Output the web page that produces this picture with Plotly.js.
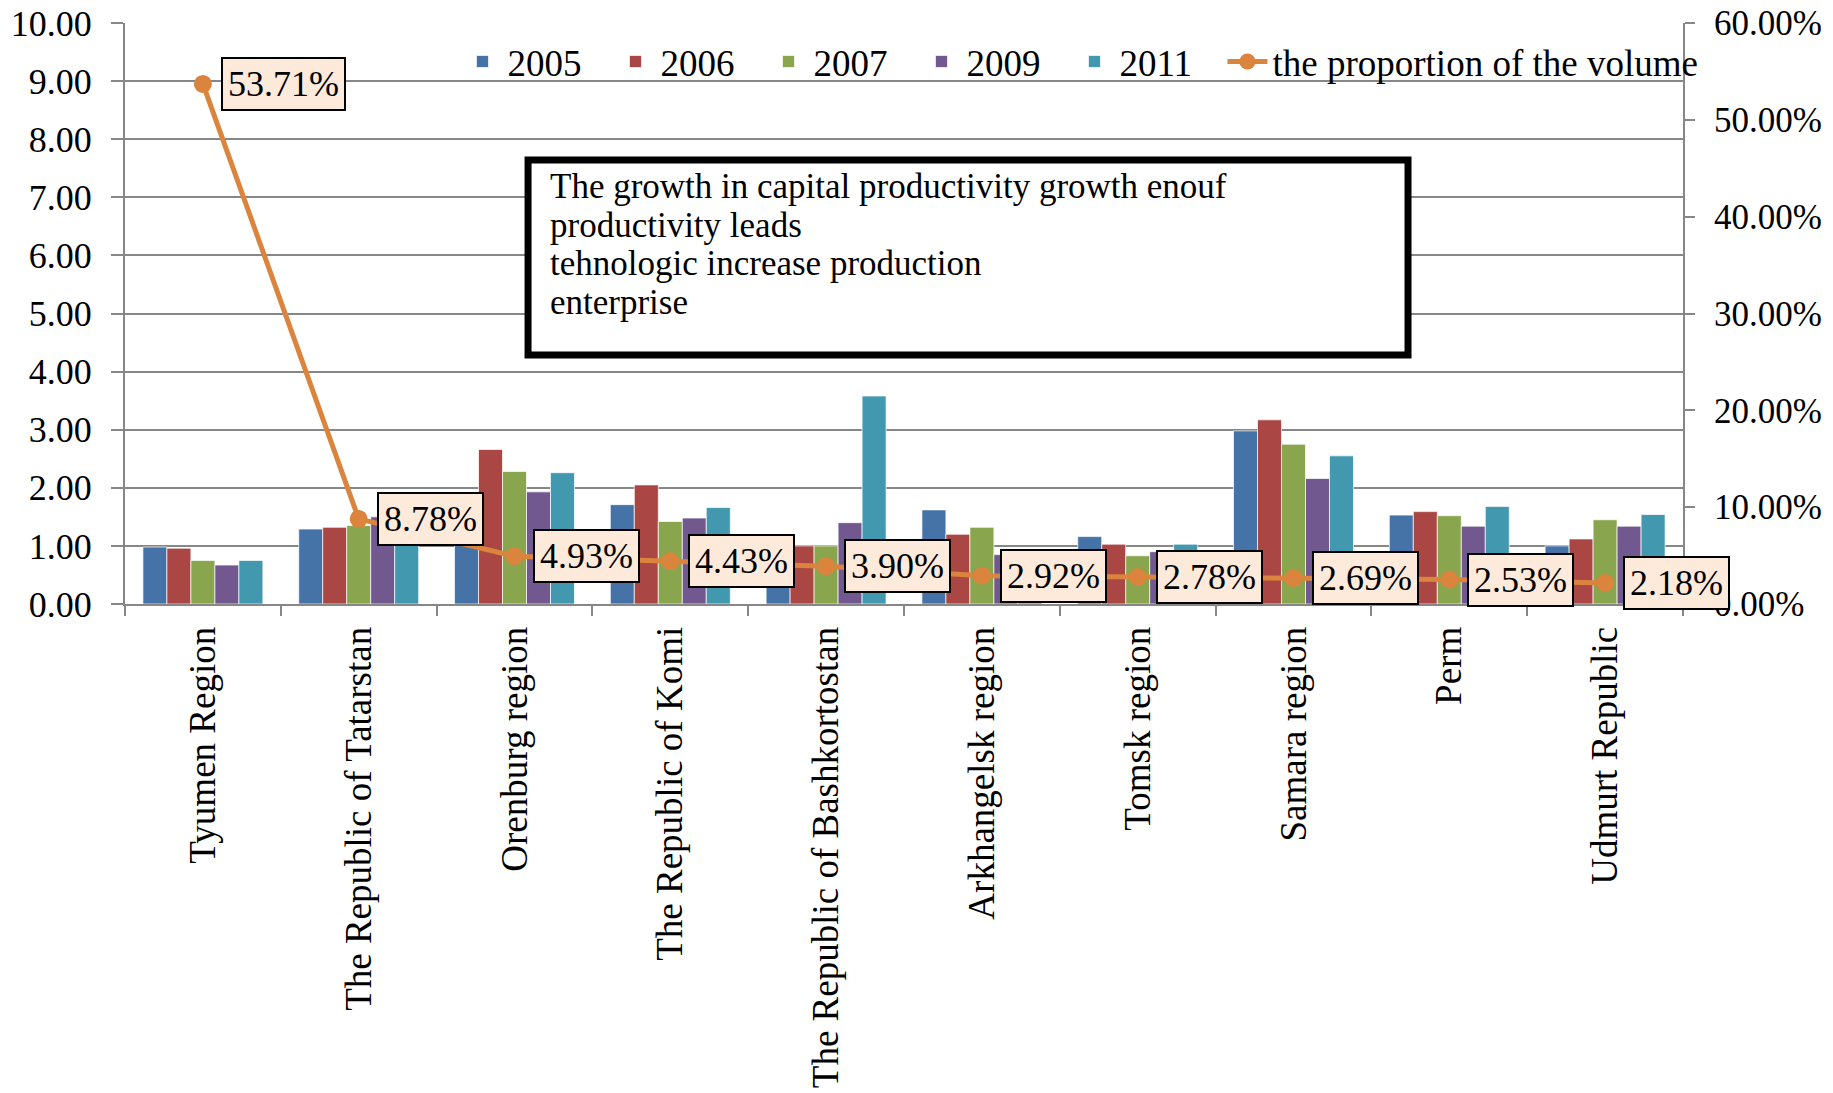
<!DOCTYPE html>
<html>
<head>
<meta charset="utf-8">
<script src="https://cdn.plot.ly/plotly-3.0.1.min.js"></script>
<style>html,body{margin:0;padding:0;background:#fff;}#chart{width:1833px;height:1093px;}</style>
</head>
<body>
<div id="chart"></div>
<script>
const categories = ['Tyumen Region','The Republic of Tatarstan','Orenburg region','The Republic of Komi','The Republic of Bashkortostan','Arkhangelsk region','Tomsk region','Samara region','Perm','Udmurt Republic'];
const seriesNames = ['2005','2006','2007','2009','2011'];
const v2005 = [0.98,1.29,1.05,1.71,0.90,1.62,1.16,2.98,1.53,1.00];
const v2006 = [0.96,1.32,2.66,2.05,1.00,1.20,1.03,3.17,1.59,1.12];
const v2007 = [0.75,1.35,2.28,1.42,1.00,1.32,0.83,2.75,1.52,1.45];
const v2009 = [0.67,1.50,1.93,1.48,1.40,0.85,0.90,2.16,1.34,1.34];
const v2011 = [0.75,1.10,2.26,1.66,3.58,0.10,1.03,2.55,1.68,1.54];
const proportion = [0.5371,0.0878,0.0493,0.0443,0.0390,0.0292,0.0278,0.0269,0.0253,0.0218];
const lineName = 'the proportion of the volume';
const noteLines = ['The growth in capital productivity growth enouf','productivity leads','tehnologic increase production','enterprise'];

const colors = ['#4572A7','#AA4643','#89A54E','#71588F','#4198AF'];
const lineColor = '#DB843D';
const FONT = '"Liberation Serif", "Times New Roman", serif';
const allSeries = [v2005, v2006, v2007, v2009, v2011];

const traces = allSeries.map((vals, i) => ({
  type: 'bar', name: seriesNames[i], x: categories, y: vals,
  marker: {color: colors[i], line: {color: 'rgba(255,255,255,0.7)', width: 1}},
  legendwidth: 98,
  hoverinfo: 'y'
}));
traces.push({
  type: 'scatter', mode: 'lines+markers', name: lineName, x: categories, y: proportion,
  yaxis: 'y2', line: {color: lineColor, width: 5},
  marker: {color: lineColor, size: 18},
  legendwidth: 450
});

const annotations = proportion.map((p, i) => ({
  xref: 'x', yref: 'y2', x: categories[i], y: p,
  text: (p * 100).toFixed(2) + '%', showarrow: false,
  xanchor: 'left', yanchor: 'middle', xshift: 18,
  bgcolor: '#FDEADA', bordercolor: '#000', borderwidth: 2, borderpad: 5,
  font: {family: FONT, size: 36, color: '#000'}
}));
const noteY = [0.7194, 0.6523, 0.5852, 0.5181];
noteLines.forEach((t, i) => annotations.push({
  xref: 'paper', yref: 'paper', x: 0.272, y: noteY[i], text: t, showarrow: false,
  xanchor: 'left', yanchor: 'middle', align: 'left', borderpad: 0,
  font: {family: FONT, size: 35, color: '#000'}
}));

const layout = {
  width: 1833, height: 1093,
  margin: {l: 125, r: 150, t: 23, b: 489, pad: 0, autoexpand: false},
  paper_bgcolor: '#fff', plot_bgcolor: '#fff',
  font: {family: FONT, size: 36, color: '#000'},
  barmode: 'group', bargap: 0.23, bargroupgap: 0,
  showlegend: true,
  legend: {orientation: 'h', x: 0.2134, xanchor: 'left', y: 0.933, yanchor: 'middle',
    bgcolor: 'rgba(0,0,0,0)', font: {family: FONT, size: 37, color: '#000'},
    itemwidth: 40, traceorder: 'normal'},
  xaxis: {type: 'category', range: [-0.5, 9.5], tickangle: -90, ticks: 'outside', tickson: 'boundaries',
    ticklen: 10, tickwidth: 2, tickcolor: '#878787', showline: true, linecolor: '#878787',
    linewidth: 2, showgrid: false, automargin: false, ticklabelstandoff: 6,
    tickfont: {family: FONT, size: 37, color: '#000'}},
  yaxis: {range: [0, 10], dtick: 1, tickformat: '.2f', ticks: 'outside', ticklen: 12,
    tickwidth: 2, tickcolor: '#878787', showline: true, linecolor: '#878787', linewidth: 2,
    showgrid: true, gridcolor: '#878787', gridwidth: 2, zeroline: false, automargin: false,
    ticklabelstandoff: 12,
    tickfont: {family: FONT, size: 36, color: '#000'}},
  yaxis2: {overlaying: 'y', side: 'right', range: [0, 0.6], dtick: 0.1, tickformat: '.2%',
    ticks: 'outside', ticklen: 10, tickwidth: 2, tickcolor: '#878787', showline: true,
    linecolor: '#878787', linewidth: 2, showgrid: false, zeroline: false, automargin: false,
    ticklabelstandoff: 12,
    tickfont: {family: FONT, size: 35, color: '#000'}},
  shapes: [{type: 'rect', xref: 'paper', yref: 'paper', x0: 0.2587, x1: 0.8235, y0: 0.4286, y1: 0.764,
    line: {color: '#000', width: 7}, fillcolor: '#fff', layer: 'above'}],
  annotations: annotations
};

Plotly.newPlot('chart', traces, layout, {displayModeBar: false, staticPlot: true});
</script>
</body>
</html>
